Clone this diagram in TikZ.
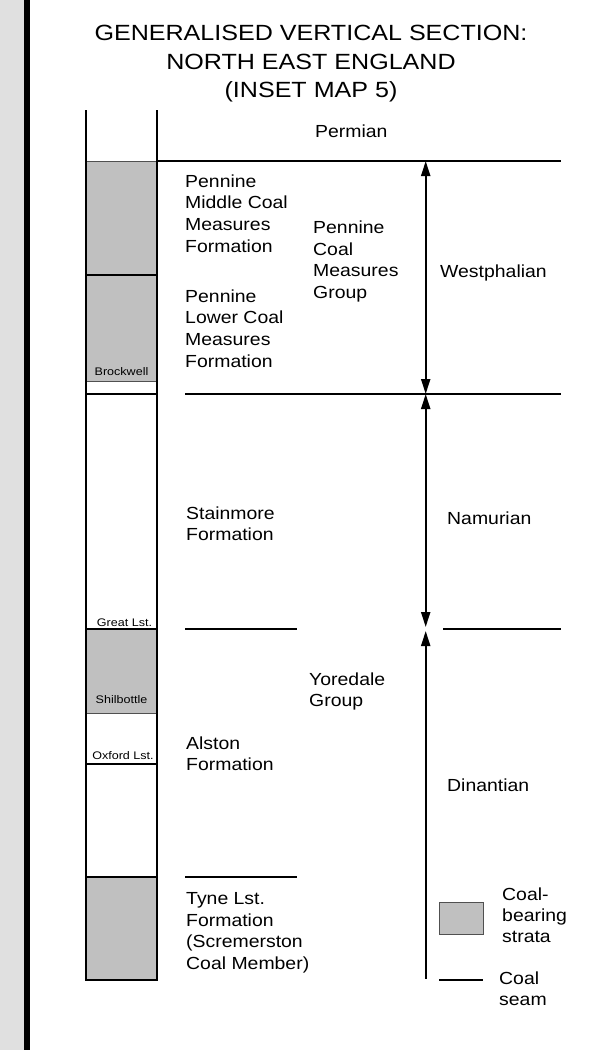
\documentclass[tikz,border=0pt]{standalone}
\usepackage{fontspec}
\setmainfont{Liberation Sans}[FakeStretch=1.11]
\newfontfamily\titlefont{Liberation Sans}[FakeStretch=1.14]
\newfontfamily\seamfont{Liberation Sans}[FakeStretch=1.14]
\usetikzlibrary{arrows.meta}
\definecolor{coalgrey}{HTML}{C0C0C0}
\definecolor{bandgrey}{HTML}{E0E0E0}
\definecolor{edgegrey}{HTML}{505050}

\begin{document}
\begin{tikzpicture}[x=1pt,y=-1pt,
  rule/.style={line width=2pt},
  coalfill/.style={fill=coalgrey, draw=edgegrey, line width=0.9pt},
  % multi-line texts are anchored at the baseline of their last line
  txt/.style={anchor=base west, inner sep=0pt, align=left,
              font=\fontsize{17.5}{21.7}\selectfont},
  seamtxt/.style={anchor=base, inner sep=0pt,
              font=\seamfont\fontsize{11}{13}\selectfont},
  headtip/.tip={Triangle[length=15pt,width=9pt]},
  stage/.style={line width=2pt},
]
\useasboundingbox (0,0) rectangle (606,1050);

% side band
\fill[bandgrey] (0,0) rectangle (24,1050);
\fill[black] (24,0) rectangle (30,1050);

% title
\node[anchor=base, inner sep=0pt, align=center,
      font=\titlefont\fontsize{22}{28.3}\selectfont] (title) at (311,97.3)
  {GENERALISED VERTICAL SECTION:\\NORTH EAST ENGLAND\\(INSET MAP 5)};

% coal-bearing parts of the column
\filldraw[coalfill] (86,161) rectangle (157,381);
\filldraw[coalfill] (86,629) rectangle (157,713);
\filldraw[coalfill] (86,877) rectangle (157,980);

% column walls and internal boundaries
\draw[rule] (86,110) -- (86,980);
\draw[rule] (157,110) -- (157,980);
\draw[line width=1.4pt] (85,980) -- (158,980);
\foreach \yy in {275,394,629,764,877}
  \draw[rule] (86,\yy) -- (157,\yy);

% boundaries to the right of the column
\draw[rule] (157,161) -- (561,161);
\draw[rule] (185,394) -- (561,394);
\draw[rule] (185,629) -- (297,629);
\draw[rule] (443,629) -- (561,629);
\draw[rule] (185,877) -- (297,877);

% stage arrows
\coordinate (wtop) at (425.7,161);
\coordinate (wbot) at (425.7,394);
\coordinate (ntop) at (425.7,394);
\coordinate (nbot) at (425.7,627);
\coordinate (dtop) at (425.7,631);
\coordinate (dbot) at (425.7,979);
\draw[stage, headtip-headtip] (wtop) -- (wbot);
\draw[stage, headtip-headtip] (ntop) -- (nbot);
\draw[stage, headtip-] (dtop) -- (dbot);

% seam names inside the column
\node[seamtxt] (brock) at (121.5,375) {Brockwell};
\node[seamtxt] (great) at (124.5,626) {Great Lst.};
\node[seamtxt] (shil) at (121.5,703) {Shilbottle};
\node[seamtxt] (oxf) at (123,759) {Oxford Lst.};

% unit names
\node[txt] (perm) at (315,137) {Permian};
\node[txt] (pmcm) at (185,252.1) {Pennine\\Middle Coal\\Measures\\Formation};
\node[txt] (plcm) at (185,367.1) {Pennine\\Lower Coal\\Measures\\Formation};
\node[txt] (pcmg) at (313,298.6) {Pennine\\Coal\\Measures\\Group};
\node[txt] (west) at (440,277) {Westphalian};
\node[txt] (stain) at (186,540.7) {Stainmore\\Formation};
\node[txt] (namur) at (447,524) {Namurian};
\node[txt] (yore) at (309,706.7) {Yoredale\\Group};
\node[txt] (alston) at (186,770.7) {Alston\\Formation};
\node[txt] (dinant) at (447,791) {Dinantian};
\node[txt] (tyne) at (186,969.6) {Tyne Lst.\\Formation\\(Scremerston\\Coal Member)};

% key
\filldraw[fill=coalgrey, draw=edgegrey, line width=1pt] (439,902) rectangle (483,934);
\node[txt, font=\fontsize{17.5}{21}\selectfont] (keycoal) at (502,942) {Coal-\\bearing\\strata};
\draw[rule] (439,980) -- (483,980);
\node[txt] (keyseam) at (499,1005.7) {Coal\\seam};
\end{tikzpicture}
\end{document}
